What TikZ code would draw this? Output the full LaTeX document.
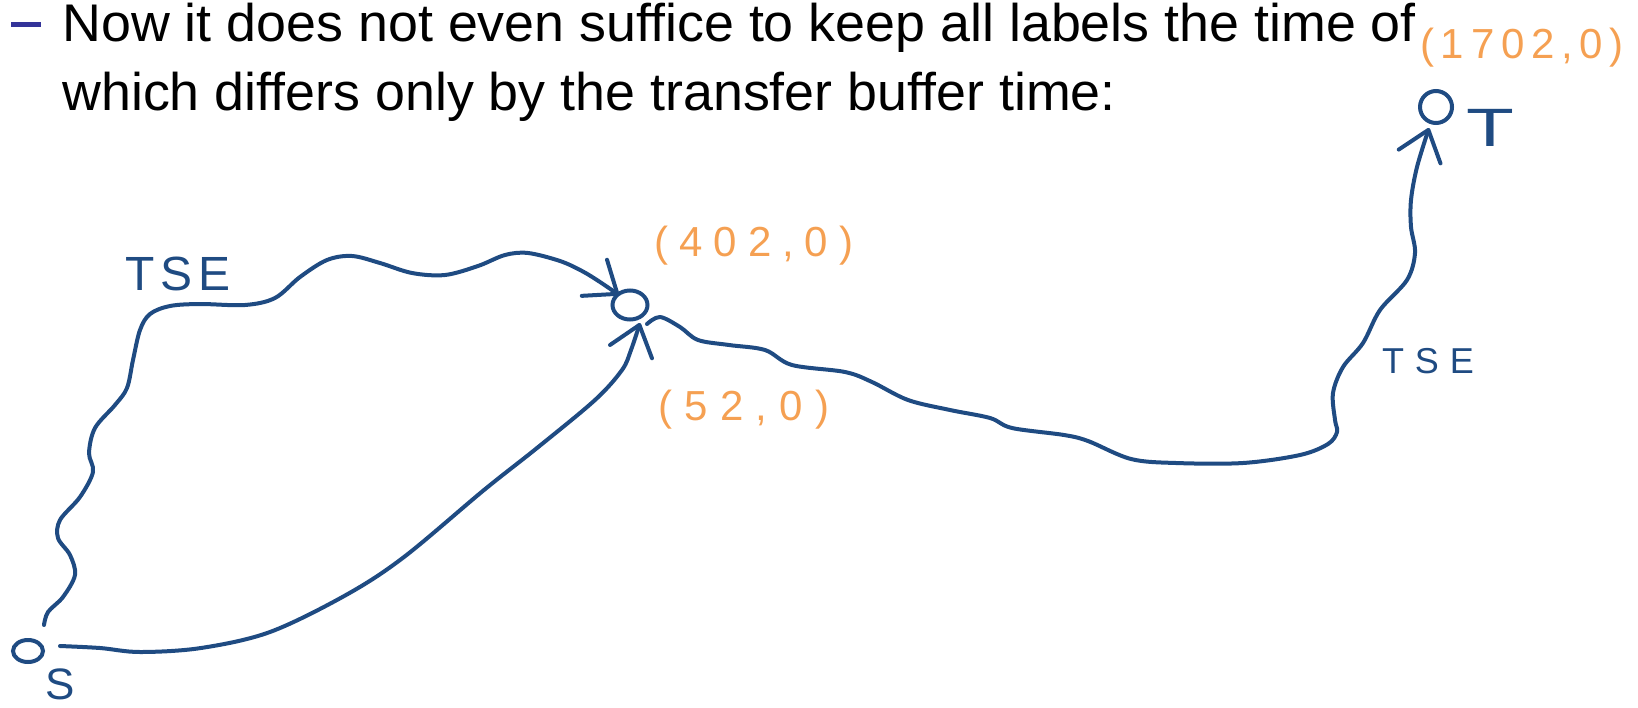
\documentclass[tikz,border=0pt]{standalone}
\usepackage{fontspec}
\usepackage{graphicx}
\setmainfont{Liberation Sans}
\usetikzlibrary{arrows.meta,shapes.geometric,calc}
\definecolor{pen}{RGB}{31,75,130}
\definecolor{ink}{RGB}{245,160,82}
\definecolor{bul}{RGB}{51,51,153}
\begin{document}
\begin{tikzpicture}[x=0.5pt,y=-0.5pt,
  hand/.style={draw=pen,line width=2pt,line cap=round,line join=round},
  vtx/.style={ellipse,draw=pen,line width=2pt,inner sep=0pt},
  head/.style={anchor=base west,inner sep=0pt,font=\fontsize{26.5}{30}\selectfont},
  lbl/.style={anchor=base,inner sep=0pt,text=ink},
  tse/.style={anchor=base,inner sep=0pt,text=pen},
  barb/.style={-{Straight Barb[length=14pt,width=22pt,round]}}]
\useasboundingbox (0,0) rectangle (1638,707);
% header
\node[fill=bul,minimum width=15pt,minimum height=2.5pt,inner sep=0pt] (bullet) at (26,24) {};
\node[head] (line1) at (62,41) {\scalebox{1.015}[1]{Now it does not even suffice to keep all labels the time of}};
\node[head] (line2) at (62,110) {\scalebox{1.015}[1]{which differs only by the transfer buffer time:}};
% vertices
\node[vtx,minimum width=15pt,minimum height=11pt] (S) at (28,651) {};
\node[vtx,minimum width=17.5pt,minimum height=14.5pt] (M) at (630,305) {};
\node[vtx,minimum width=16pt,minimum height=16pt] (T) at (1436,107) {};
\node[tse,font=\fontsize{22}{22}\selectfont] (Slbl) at (60,699) {S};
\node[tse,font=\fontsize{27}{27}\selectfont] (Tlbl) at (1490,146) {\scalebox{1.45}[1]{T}};
% labels
\node[tse,font=\fontsize{24}{24}\selectfont\addfontfeature{LetterSpace=12}] (tse1) at (178,290) {TSE};
\node[tse,font=\fontsize{18}{18}\selectfont\addfontfeature{LetterSpace=30}] (tse2) at (1428,373) {TSE};
\node[lbl,font=\fontsize{21}{21}\selectfont\addfontfeature{LetterSpace=26}] (l402) at (754,256) {(402,0)};
\node[lbl,font=\fontsize{21}{21}\selectfont\addfontfeature{LetterSpace=29}] (l52) at (744,420) {(52,0)};
\node[lbl,font=\fontsize{21}{21}\selectfont\addfontfeature{LetterSpace=16}] (l1702) at (1522,58) {(1702,0)};
% connector end points
\coordinate (a0) at ($(S)+(16,-26)$);
\coordinate (a1) at ($(M)+(-11,-10)$);
\coordinate (b0) at ($(S)+(32,-5)$);
\coordinate (b1) at ($(M)+(10,18)$);
\coordinate (c0) at ($(M)+(17,19)$);
\coordinate (c1) at ($(T)+(-7,21)$);
% connectors
\draw[hand,barb] plot[smooth,tension=0.55] coordinates {(a0) (48,612) (63,597) (75,575) (70,555) (58,538) (60,520) (80,497) (93,472) (89,453) (95,428) (115,405) (127,388) (133,360) (140,330) (150,314) (170,306) (200,304) (245,305) (275,298) (300,277) (327,260) (352,256) (380,263) (412,273) (445,275) (478,266) (505,255) (528,253) (560,261) (582,271) (600,282) (a1)};
\draw[hand,barb] plot[smooth,tension=0.55] coordinates {(b0) (100,648) (140,652) (201,648) (270,632) (346,595) (404,557) (484,490) (537,448) (595,400) (622,370) (631,350) (b1)};
\draw[hand,barb] plot[smooth,tension=0.55] coordinates {(c0) (660,317) (680,327) (698,340) (729,345) (765,350) (792,365) (845,372) (872,382) (908,400) (950,410) (990,418) (1012,428) (1064,435) (1088,441) (1131,459) (1176,463) (1243,463) (1300,455) (1328,444) (1337,432) (1335,420) (1333,393) (1343,367) (1363,343) (1380,310) (1407,280) (1415,253) (1411,227) (1411,200) (1417,167) (c1)};
\end{tikzpicture}
\end{document}
